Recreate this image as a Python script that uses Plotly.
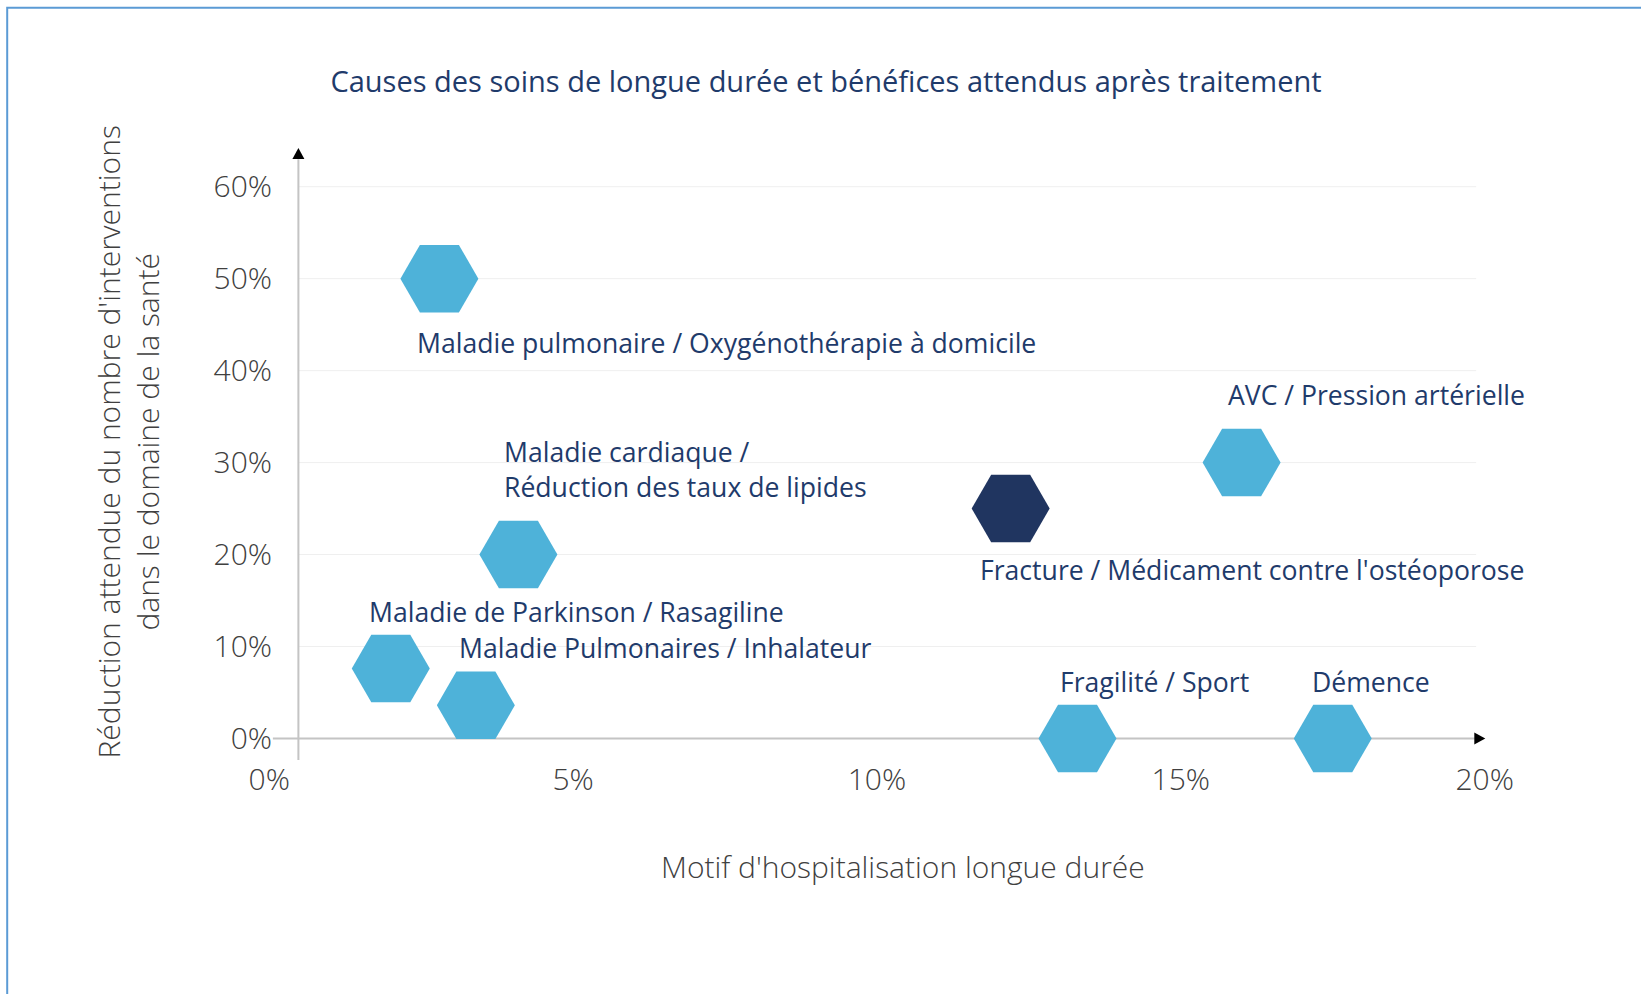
import plotly.graph_objects as go

# ---------------- data ----------------
categories = [
    "Maladie pulmonaire / Oxygénothérapie à domicile",
    "AVC / Pression artérielle",
    "Maladie cardiaque /<br>Réduction des taux de lipides",
    "Fracture / Médicament contre l'ostéoporose",
    "Maladie de Parkinson / Rasagiline",
    "Maladie Pulmonaires / Inhalateur",
    "Fragilité / Sport",
    "Démence",
]
x_values = [2.8, 16.0, 4.1, 12.2, 2.0, 3.4, 13.3, 17.5]   # Motif d'hospitalisation (%)
y_values = [50, 30, 20, 25, 7.6, 3.6, 0, 0]               # Réduction attendue (%)
highlighted = ["Fracture / Médicament contre l'ostéoporose"]

x_ticks = [0, 5, 10, 15, 20]
x_tick_labels = ["0%", "5%", "10%", "15%", "20%"]
y_ticks = [0, 10, 20, 30, 40, 50, 60]
y_tick_labels = ["0%", "10%", "20%", "30%", "40%", "50%", "60%"]

title_text = "Causes des soins de longue durée et bénéfices attendus après traitement"
x_title = "Motif d'hospitalisation longue durée"
y_title = "Réduction attendue du nombre d'interventions<br>dans le domaine de la santé"

# ---------------- style ----------------
LIGHT = "#4eb2d9"
DARK = "#203560"
NAVY_TEXT = "#1f3b6b"
GRAY_TEXT = "#404040"
AXIS_GRAY = "#c4c4c4"
GRID = "#efefef"
FONT = "Open Sans"

# label offsets (pixels, relative to marker centre) – layout styling
label_xshift = [-24, -16, -16, -33, -24, -19, -20, -23]
label_yshift = [-64, 68, 85, -61, 57, 57, 56, 56]

W, H = 1641, 994
X_RANGE = [-0.3, 20.4]
Y_RANGE = [-3, 65.3]
Y_AXIS_AT = 0.48      # where the vertical axis line is drawn
GRID_END = 19.86

colors = [DARK if c in highlighted else LIGHT for c in categories]

fig = go.Figure()
fig.add_trace(go.Scatter(
    x=x_values, y=y_values, mode="markers",
    marker=dict(symbol="hexagon2", size=78, color=colors, line=dict(width=0)),
    cliponaxis=False, hoverinfo="skip", showlegend=False,
))

shapes = []
# gridlines
for t in y_ticks:
    if t == 0:
        continue
    shapes.append(dict(type="line", xref="x", yref="y", x0=Y_AXIS_AT, x1=GRID_END, y0=t, y1=t,
                       line=dict(color=GRID, width=1), layer="below"))
# axis lines
shapes.append(dict(type="line", xref="x", yref="y", x0=Y_AXIS_AT, x1=Y_AXIS_AT, y0=-2.35, y1=63.0,
                   line=dict(color=AXIS_GRAY, width=2), layer="below"))
shapes.append(dict(type="line", xref="x", yref="y", x0=0.06, x1=19.85, y0=0, y1=0,
                   line=dict(color=AXIS_GRAY, width=2), layer="below"))
# arrow heads
shapes.append(dict(type="path", xref="x", yref="y", xsizemode="pixel", ysizemode="pixel",
                   xanchor=Y_AXIS_AT, yanchor=64.2, path="M 0 0 L -6 -11 L 6 -11 Z",
                   fillcolor="black", line=dict(width=0)))
shapes.append(dict(type="path", xref="x", yref="y", xsizemode="pixel", ysizemode="pixel",
                   xanchor=20.01, yanchor=0, path="M 0 0 L -11 6 L -11 -6 Z",
                   fillcolor="black", line=dict(width=0)))
# outer frame
shapes.append(dict(type="rect", xref="paper", yref="paper", x0=-0.1938, x1=1.2, y0=-0.5, y1=1.2073,
                   line=dict(color="#5b9bd5", width=2), fillcolor="rgba(0,0,0,0)"))

annotations = []
for c, x, y, dx, dy in zip(categories, x_values, y_values, label_xshift, label_yshift):
    annotations.append(dict(x=x, y=y, xref="x", yref="y", text=c, showarrow=False,
                            xanchor="left", yanchor="middle", align="left",
                            xshift=dx, yshift=dy,
                            font=dict(family=FONT, size=26.6, color=NAVY_TEXT)))
annotations.append(dict(x=0.5183, y=-0.16, xref="paper", yref="paper", text=x_title, showarrow=False,
                        xanchor="center", yanchor="middle",
                        font=dict(family=FONT, size=30, color=GRAY_TEXT, weight=300)))
annotations.append(dict(x=-0.098, y=0.5163, xref="paper", yref="paper", text=y_title, showarrow=False,
                        textangle=-90, xanchor="center", yanchor="middle", align="center",
                        font=dict(family=FONT, size=30, color=GRAY_TEXT, weight=300)))

fig.update_layout(
    width=W, height=H,
    margin=dict(l=251.2, r=132.1, t=137.7, b=228.3, pad=0),
    paper_bgcolor="white", plot_bgcolor="white",
    title=dict(text=title_text, x=826 / W, y=1 - 81.6 / H, xref="container", yref="container",
               xanchor="center", yanchor="middle",
               font=dict(family=FONT, size=29, color=NAVY_TEXT)),
    xaxis=dict(range=X_RANGE, tickvals=x_ticks, ticktext=x_tick_labels, showgrid=False,
               zeroline=False, showline=False, ticks="", ticklabelstandoff=-7,
               tickfont=dict(family=FONT, size=30, color=GRAY_TEXT, weight=300), fixedrange=True),
    yaxis=dict(range=Y_RANGE, tickvals=y_ticks, ticktext=y_tick_labels, showgrid=False,
               zeroline=False, showline=False, ticks="", ticklabelstandoff=-22,
               tickfont=dict(family=FONT, size=30, color=GRAY_TEXT, weight=300), fixedrange=True),
    shapes=shapes,
    annotations=annotations,
    showlegend=False,
)

fig.write_html("out.html", config={"displayModeBar": False, "staticPlot": True},
               post_script="document.body.style.margin='0px';document.body.style.overflow='hidden';")
